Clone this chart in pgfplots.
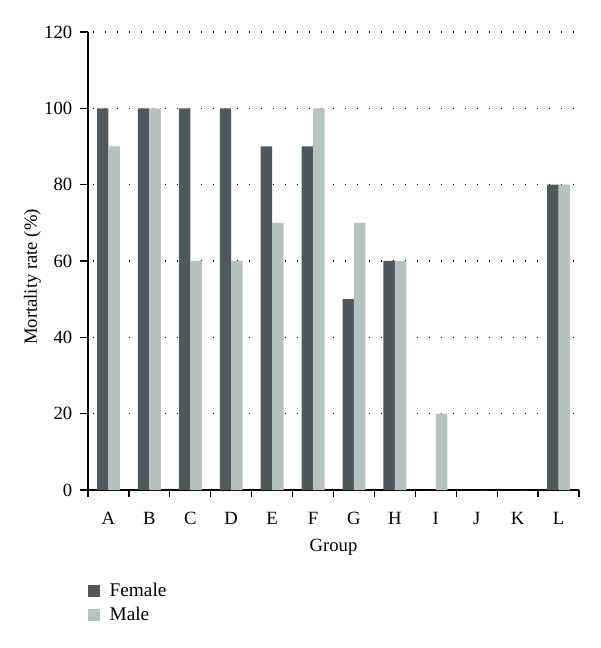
\documentclass[border=0pt]{standalone}
\usepackage{fontspec}
\setmainfont{Liberation Serif}
\usepackage{pgfplots}
\pgfplotsset{compat=1.18}
\usetikzlibrary{calc}
\definecolor{fem}{RGB}{78,90,90}
\definecolor{mal}{RGB}{180,194,192}
\begin{document}
\fontsize{14}{16.5}\selectfont
\begin{tikzpicture}
\begin{axis}[
  name=ax,
  at={(0,0)}, anchor=south west,
  scale only axis,
  width=368.25pt, height=343.5pt,
  /pgf/number format/assume math mode=true,
  ybar, bar width=0.28,
  xmin=-0.5, xmax=11.5,
  ymin=0, ymax=120,
  axis x line=bottom, axis y line=left,
  axis line style={-, line width=0.9pt, black},
  tick style={line width=0.9pt, black},
  tick align=outside,
  xtick={0,...,11},
  xticklabels={A,B,C,D,E,F,G,H,I,J,K,L},
  major x tick style={draw=none},
  minor xtick={-0.5,0.5,...,11.5},
  minor tick length=5.5pt,
  ytick={0,20,...,120},
  major tick length=6pt,
  xticklabel style={yshift=-6pt},
  yticklabel style={xshift=-1pt},
  ymajorgrids,
  major grid style={line width=0.9pt, black, dash pattern=on 0.8pt off 8.2pt, dash phase=-4pt},
  xlabel={Group},
  ylabel={Mortality rate (\%)},
  xlabel style={yshift=-1pt},
  ylabel style={yshift=-7pt, xshift=-12pt},
  legend style={at={(0,-0.19)}, anchor=north west, draw=none, fill=none,
    font=\fontsize{14.5}{16.5}\selectfont, row sep=2pt, inner xsep=0pt},
  legend cell align=left,
  legend image code/.code={\fill[#1] (0pt,-4.5pt) rectangle (9pt,4.5pt); \path (0pt,0pt) -- (14pt,0pt);},
]
\addplot[fill=fem, draw=none, bar shift=-0.14] coordinates {
(0,100) (1,100) (2,100) (3,100) (4,90) (5,90) (6,50) (7,60) (8,0) (9,0) (10,0) (11,80)};
\addplot[fill=mal, draw=none, bar shift=0.14] coordinates {
(0,90) (1,100) (2,60) (3,60) (4,70) (5,100) (6,70) (7,60) (8,20) (9,0) (10,0) (11,80)};
\legend{Female,Male}
\end{axis}
\pgfresetboundingbox
\path[use as bounding box] ($(ax.south west)+(-66pt,-118.5pt)$) rectangle ($(ax.south west)+(384pt,367.5pt)$);
\end{tikzpicture}
\end{document}
